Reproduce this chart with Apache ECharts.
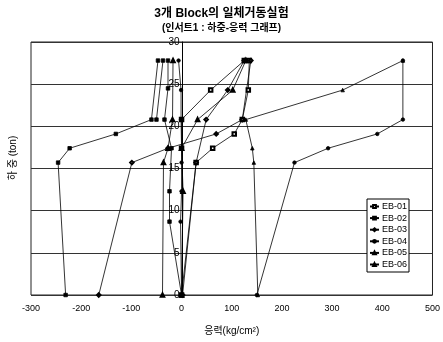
<!DOCTYPE html>
<html>
<head>
<meta charset="utf-8">
<script src="https://cdn.jsdelivr.net/npm/echarts@6/dist/echarts.min.js"></script>
<style>
html,body{margin:0;padding:0;background:#fff;}
#c{width:443px;height:342px;}
</style>
</head>
<body>
<div id="c"></div>
<script>
// ---- data (stress kg/cm², load ton) ----
const names = ['EB-01','EB-02','EB-03','EB-04','EB-05','EB-06'];
// EB-01
const eb01aX = [0, 29, 62, 105, 121, 133, 135];
const eb01aY = [0, 15.7, 17.4, 19.1, 20.8, 24.3, 27.8];
const eb01bX = [0, 0, 58, 125];
const eb01bY = [17.4, 20.8, 24.3, 27.8];
// EB-02
const eb02aX = [-231, -246, -223, -131, -60, -47];
const eb02aY = [0, 15.7, 17.4, 19.1, 20.8, 27.8];
const eb02bX = [0, -24, -24, -20, -34, -27, -27];
const eb02bY = [0, 8.7, 12.3, 17.4, 20.8, 24.5, 27.8];
const eb02cX = [-50, -37];
const eb02cY = [20.8, 27.8];
// EB-03
const eb03aX = [-165, -99, -27, 69, 121, 138];
const eb03aY = [0, 15.7, 17.4, 19.1, 20.8, 27.8];
const eb03bX = [2, 29, 49, 92, 125];
const eb03bY = [0, 15.7, 20.8, 24.3, 27.8];
// EB-04
const eb04aX = [150, 225, 292, 390, 441, 441];
const eb04aY = [0, 15.7, 17.4, 19.1, 20.8, 27.8];
const eb04bX = [0, -2, 0, 0, 0, -1, -1, -6];
const eb04bY = [0, 8.7, 12.3, 15.7, 17.4, 20.8, 24.3, 27.8];
// EB-05
const eb05aX = [-38, -36, -27, -18, -17];
const eb05aY = [0, 15.7, 17.4, 20.8, 27.8];
const eb05bX = [0, 3, 0, 32, 102, 128];
const eb05bY = [0, 12.3, 17.4, 20.8, 24.3, 27.8];
// EB-06
const eb06aX = [152, 144, 141, 128, 321, 441];
const eb06aY = [0, 15.7, 17.4, 20.8, 24.3, 27.8];

const symbols = {
  'EB-01':'emptyRect','EB-02':'rect','EB-03':'emptyDiamond',
  'EB-04':'circle','EB-05':'emptyTriangle','EB-06':'triangle'
};

function mk(name, xs, ys){
  return {
    type:'line', name:name,
    data: xs.map((x,i)=>[x, ys[i]]),
    symbol: symbols[name], symbolSize: 3.5,
    lineStyle:{color:'#000', width:0.8},
    itemStyle:{color:'#000', borderColor:'#000', borderWidth:0.8},
    emphasis:{disabled:true},
    z: 3
  };
}

const series = [
  mk('EB-01', eb01aX, eb01aY), mk('EB-01', eb01bX, eb01bY),
  mk('EB-02', eb02aX, eb02aY), mk('EB-02', eb02bX, eb02bY), mk('EB-02', eb02cX, eb02cY),
  mk('EB-03', eb03aX, eb03aY), mk('EB-03', eb03bX, eb03bY),
  mk('EB-04', eb04aX, eb04aY), mk('EB-04', eb04bX, eb04bY),
  mk('EB-05', eb05aX, eb05aY), mk('EB-05', eb05bX, eb05bY),
  mk('EB-06', eb06aX, eb06aY)
];

const FONT = 'Arial, "Liberation Sans", "Noto Sans CJK KR", sans-serif';
const chart = echarts.init(document.getElementById('c'), null, {renderer:'canvas'});
chart.setOption({
  animation:false,
  backgroundColor:'#fff',
  textStyle:{fontFamily:FONT},
  title:{
    text:'3개 Block의 일체거동실험',
    subtext:'(인서트1 : 하중-응력 그래프)',
    left:'center', top:3, itemGap:3,
    textStyle:{fontSize:12, fontWeight:'bold', color:'#000', fontFamily:FONT},
    subtextStyle:{fontSize:10, fontWeight:'bold', color:'#000', fontFamily:FONT}
  },
  legend:{
    data:names, orient:'vertical', left:367, top:199,
    itemWidth:9, itemHeight:3.5, itemGap:2.6, padding:[3,2,3,2],
    borderColor:'#000', borderWidth:1, backgroundColor:'#fff',
    textStyle:{fontSize:9, color:'#000', fontFamily:FONT, padding:[0,0,0,-2]},
    selectedMode:false
  },
  grid:{left:31, right:8, top:42, bottom:47, show:true, borderColor:'#222', borderWidth:1, containLabel:false},
  xAxis:{
    type:'value', min:-300, max:500, interval:100,
    axisLine:{show:false}, axisTick:{show:false}, splitLine:{show:false},
    axisLabel:{fontSize:9, color:'#000', margin:9, fontFamily:FONT},
    name:'응력(kg/cm²)', nameLocation:'middle', nameGap:31,
    nameTextStyle:{fontSize:10, color:'#000', fontFamily:FONT}
  },
  yAxis:{
    type:'value', min:0, max:30, interval:5,
    offset:-151.5,
    axisLine:{show:true, onZero:false, lineStyle:{color:'#000', width:1}},
    axisTick:{show:false},
    splitLine:{show:true, lineStyle:{color:'#333', width:1}},
    axisLabel:{fontSize:10, color:'#000', margin:3, fontFamily:FONT}
  },
  graphic:[{
    type:'text', x:13, y:158, rotation:Math.PI/2,
    style:{text:'하 중 (ton)', fontSize:10, fill:'#000', fontFamily:FONT, align:'center', verticalAlign:'middle'}
  }],
  series:series
});
</script>
</body>
</html>
